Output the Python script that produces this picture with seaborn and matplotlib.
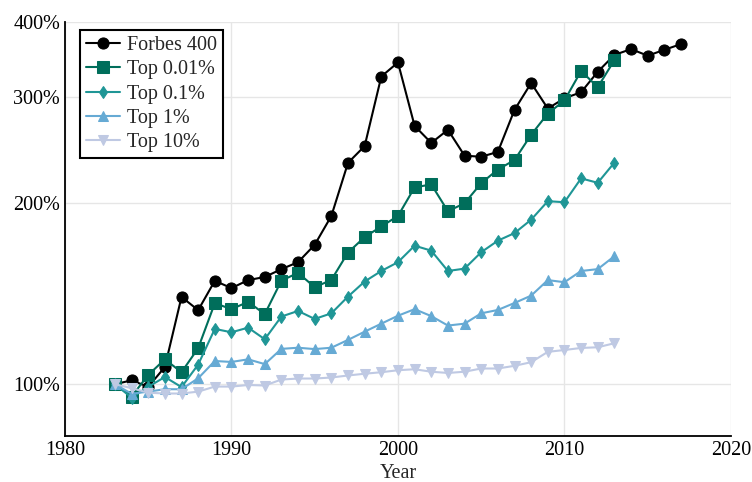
import matplotlib.pyplot as plt
import matplotlib.ticker as mticker
import pandas as pd
import seaborn as sns

# growth relative to 1983 (1.0 = 100%)
years_forbes = list(range(1983, 2018))
forbes = [1.00, 1.015, 0.99, 1.068, 1.397, 1.328, 1.486, 1.445, 1.49, 1.508,
          1.554, 1.596, 1.706, 1.905, 2.335, 2.49, 3.25, 3.43, 2.69, 2.52,
          2.65, 2.40, 2.39, 2.435, 2.86, 3.17, 2.875, 2.99, 3.06, 3.31,
          3.53, 3.61, 3.52, 3.60, 3.68]

years_top = list(range(1983, 2014))
top001 = [1.00, 0.954, 1.036, 1.10, 1.047, 1.148, 1.364, 1.333, 1.371, 1.308,
          1.487, 1.532, 1.45, 1.491, 1.656, 1.757, 1.83, 1.905, 2.125, 2.15,
          1.94, 2.00, 2.16, 2.276, 2.36, 2.60, 2.82, 2.965, 3.32, 3.12, 3.46]
top01 = [1.00, 0.95, 0.99, 1.028, 0.989, 1.078, 1.236, 1.22, 1.242, 1.188,
         1.296, 1.324, 1.284, 1.312, 1.399, 1.482, 1.543, 1.596, 1.70, 1.668,
         1.543, 1.557, 1.658, 1.733, 1.784, 1.878, 2.016, 2.008, 2.20, 2.163, 2.337]
top1 = [1.00, 0.964, 0.972, 0.981, 0.981, 1.023, 1.093, 1.089, 1.10, 1.08,
        1.145, 1.15, 1.144, 1.15, 1.185, 1.223, 1.261, 1.30, 1.333, 1.298,
        1.252, 1.261, 1.312, 1.329, 1.365, 1.404, 1.49, 1.478, 1.543, 1.554, 1.633]
top10 = [1.00, 0.985, 0.968, 0.965, 0.965, 0.972, 0.991, 0.991, 0.997, 0.995,
         1.018, 1.022, 1.022, 1.026, 1.034, 1.041, 1.047, 1.055, 1.059, 1.049,
         1.044, 1.049, 1.062, 1.062, 1.073, 1.088, 1.132, 1.14, 1.149, 1.152, 1.17]

series = [
    ("Forbes 400", years_forbes, forbes, "black", "o", 8),
    ("Top 0.01%", years_top, top001, "#006e5b", "s", 8),
    ("Top 0.1%", years_top, top01, "#1f9696", "d", 6),
    ("Top 1%", years_top, top1, "#66aad4", "^", 6.5),
    ("Top 10%", years_top, top10, "#bfc9e3", "v", 6.5),
]

sns.set_style("white")
plt.rcParams["font.family"] = ["Liberation Serif", "DejaVu Serif"]

fig = plt.figure(figsize=(7.52, 4.82), dpi=100)
ax = fig.add_axes([0.0864, 0.0954, 0.8856, 0.8583])

for name, yrs, vals, color, marker, ms in series:
    df = pd.DataFrame({"Year": yrs, "value": vals})
    sns.lineplot(data=df, x="Year", y="value", ax=ax, color=color, marker=marker,
                 markersize=ms, markeredgecolor=color, linewidth=1.5, label=name)

ax.set_yscale("log")
ax.set_xlim(1980, 2020)
ax.set_ylim(0.82, 4.0)
ax.yaxis.set_major_locator(mticker.FixedLocator([1, 2, 3, 4]))
ax.yaxis.set_minor_locator(mticker.NullLocator())
ax.yaxis.set_major_formatter(mticker.FuncFormatter(lambda v, p: f"{v * 100:.0f}%"))
ax.xaxis.set_major_locator(mticker.FixedLocator([1980, 1990, 2000, 2010, 2020]))

ax.grid(True, color="#e6e6e6", linewidth=1)
for side in ["top", "right"]:
    ax.spines[side].set_visible(False)
for side in ["left", "bottom"]:
    ax.spines[side].set_color("black")
    ax.spines[side].set_linewidth(1.3)
ax.tick_params(direction="in", length=6, width=1, labelsize=14.5, colors="black")
ax.set_xlabel("Year", fontsize=14.5, labelpad=3)
ax.set_ylabel("")

leg = ax.legend(loc="upper left", fontsize=14.5, frameon=True, fancybox=False,
                borderpad=0.3, labelspacing=0.25, handlelength=1.7,
                handletextpad=0.35, borderaxespad=0,
                bbox_to_anchor=(0.0225, 0.981))
leg.get_frame().set_edgecolor("black")
leg.get_frame().set_linewidth(1.5)
leg.get_frame().set_alpha(1)

fig.savefig("out.png", dpi=100)
